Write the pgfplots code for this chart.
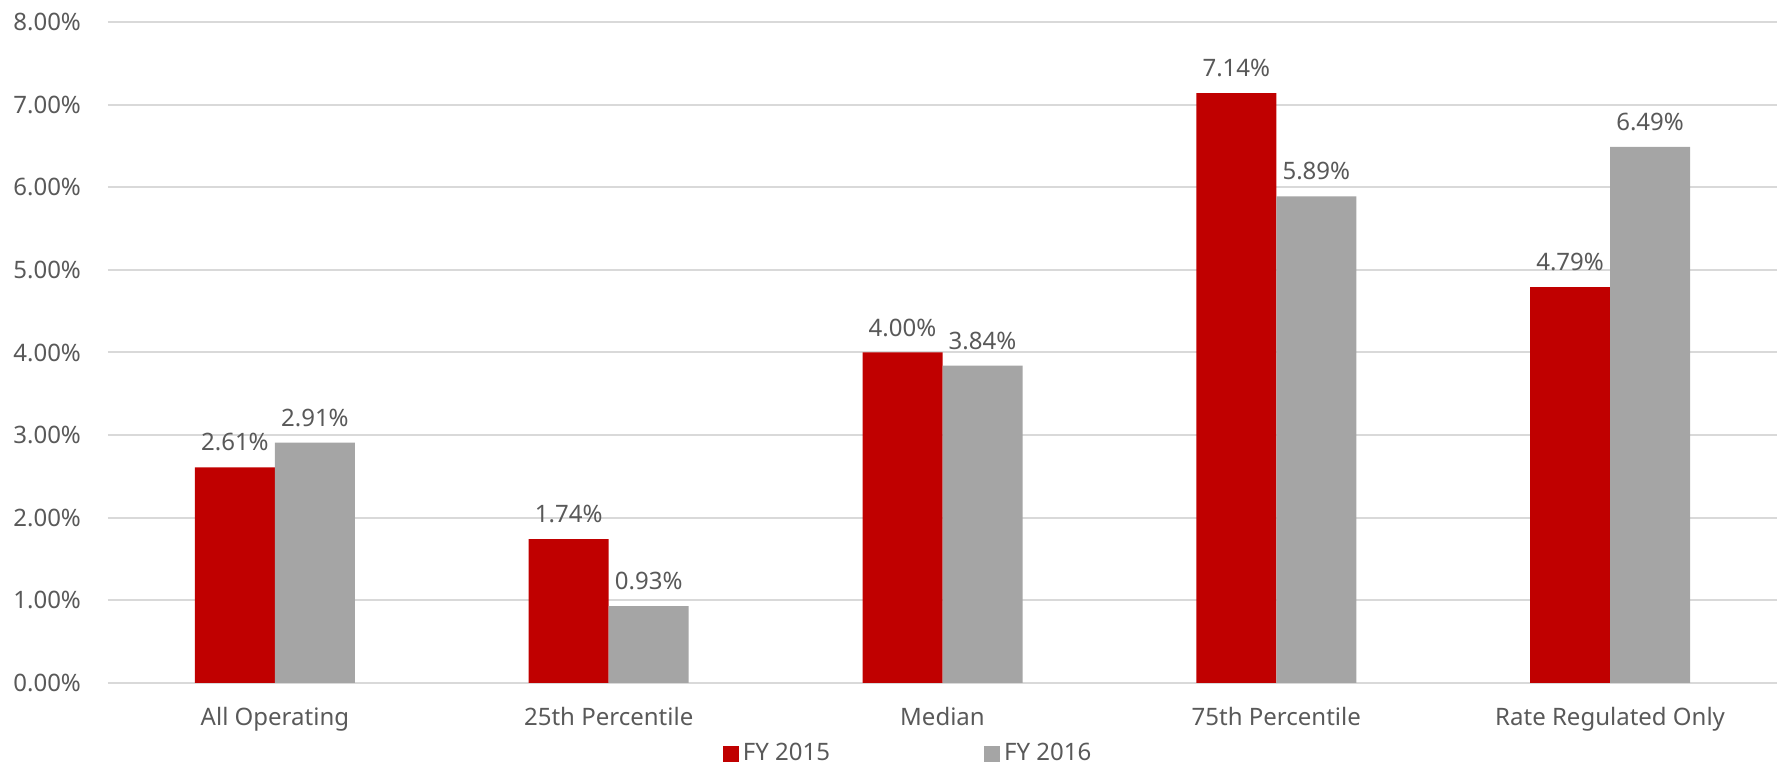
\documentclass[border=0pt]{standalone}
\usepackage{pgfplots}
\pgfplotsset{compat=1.18}
\usepackage{fontspec}
\setmainfont{Noto Sans}
\definecolor{fyred}{HTML}{C00000}
\definecolor{fygray}{HTML}{A5A5A5}
\definecolor{gridc}{HTML}{D9D9D9}
\definecolor{txt}{HTML}{595959}

\begin{document}
\begin{tikzpicture}
\begin{axis}[
    name=ax,
    scale only axis,
    width=834.5pt, height=330.5pt,
    ybar=0pt, bar width=40pt,
    ymin=0, ymax=8,
    xmin=-0.5, xmax=4.5,
    xtick=data,
    xticklabels={All Operating,25th Percentile,Median,75th Percentile,Rate Regulated Only},
    ytick={0,1,...,8},
    yticklabel={\pgfmathprintnumber[fixed,fixed zerofill,precision=2]{\tick}\%},
    /pgf/number format/assume math mode=true,
    ymajorgrids,
    grid style={gridc, line width=1pt},
    axis line style={draw=none},
    major tick length=0pt,
    tick label style={font=\fontsize{12}{14}\selectfont, text=txt},
    xticklabel style={yshift=-8.5pt},
    yticklabel style={xshift=-10pt},
    nodes near coords={\pgfmathprintnumber[fixed,fixed zerofill,precision=2]{\pgfplotspointmeta}\%},
    nodes near coords style={font=\fontsize{12}{14}\selectfont, text=txt, yshift=4.5pt},
    legend style={draw=none, fill=none, at={(0.48,-0.107)}, anchor=center,
        font=\fontsize{12}{14}\selectfont, text=txt,
        /tikz/every even column/.append style={column sep=75pt}},
    legend columns=2,
    legend image code/.code={\fill[#1] (0pt,-4pt) rectangle (8pt,4pt);},
]
\addplot[fill=fyred, draw=none] coordinates {(0,2.61) (1,1.74) (2,4.00) (3,7.14) (4,4.79)};
\addplot[fill=fygray, draw=none] coordinates {(0,2.91) (1,0.93) (2,3.84) (3,5.89) (4,6.49)};
\legend{FY 2015, FY 2016}
\end{axis}
\pgfresetboundingbox
\path ([xshift=-54pt,yshift=-42pt]ax.south west) rectangle ([yshift=11pt]ax.north east);
\end{tikzpicture}
\end{document}
